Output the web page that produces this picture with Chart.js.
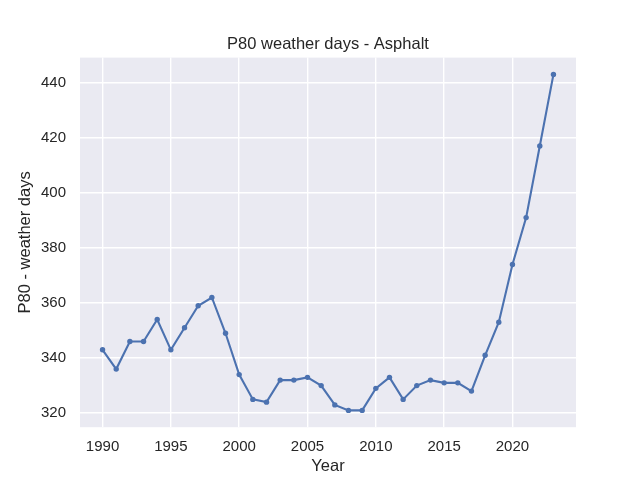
<!DOCTYPE html>
<html>
<head>
<meta charset="utf-8">
<script src="https://cdn.jsdelivr.net/npm/chart.js@4.4.1/dist/chart.umd.min.js"></script>
<style>
  html, body { margin: 0; padding: 0; background: #ffffff; }
  #c { display: block; }
</style>
</head>
<body>
<canvas id="c" width="640" height="480"></canvas>
<script>
const chartTitle = "P80 weather days - Asphalt";
const xLabel = "Year";
const yLabel = "P80 - weather days";
const years = [1990, 1991, 1992, 1993, 1994, 1995, 1996, 1997, 1998, 1999,
               2000, 2001, 2002, 2003, 2004, 2005, 2006, 2007, 2008, 2009,
               2010, 2011, 2012, 2013, 2014, 2015, 2016, 2017, 2018, 2019,
               2020, 2021, 2022, 2023];
const p80Days = [343, 336, 346, 346, 354, 343, 351, 359, 362, 349,
                 334, 325, 324, 332, 332, 333, 330, 323, 321, 321,
                 329, 333, 325, 330, 332, 331, 331, 328, 341, 353,
                 374, 391, 417, 443];
const xTicks = [1990, 1995, 2000, 2005, 2010, 2015, 2020];
const yTicks = [320, 340, 360, 380, 400, 420, 440];

const FONT = "'Liberation Sans', Arial, 'DejaVu Sans', sans-serif";
const TEXT = "#262626";

const bgPlugin = {
  id: 'plotBg',
  beforeDraw(chart) {
    const a = chart.chartArea;
    const ctx = chart.ctx;
    ctx.save();
    ctx.fillStyle = '#ffffff';
    ctx.fillRect(0, 0, chart.width, chart.height);
    ctx.fillStyle = '#EAEAF2';
    ctx.fillRect(a.left, a.top, a.right - a.left, a.bottom - a.top);
    ctx.restore();
  }
};

// Title centred over the plot area (as matplotlib does)
const axesTitlePlugin = {
  id: 'axesTitle',
  afterDraw(chart) {
    const a = chart.chartArea;
    const ctx = chart.ctx;
    ctx.save();
    ctx.fillStyle = TEXT;
    ctx.font = "16.5px " + FONT;
    ctx.textAlign = 'center';
    ctx.textBaseline = 'alphabetic';
    ctx.fillText(chartTitle, (a.left + a.right) / 2, a.top - 8.2);
    ctx.restore();
  }
};

new Chart(document.getElementById('c'), {
  type: 'line',
  data: {
    datasets: [{
      data: years.map((y, i) => ({ x: y, y: p80Days[i] })),
      borderColor: '#4C72B0',
      backgroundColor: '#4C72B0',
      borderWidth: 2.1,
      pointRadius: 2.7,
      pointBorderWidth: 0,
      pointHoverRadius: 2.7,
      tension: 0,
      fill: false
    }]
  },
  options: {
    responsive: false,
    devicePixelRatio: 1,
    animation: false,
    events: [],
    layout: { padding: { left: 16, right: 64, top: 57.6, bottom: 0 } },
    plugins: {
      legend: { display: false },
      tooltip: { enabled: false },
      title: { display: false }
    },
    scales: {
      x: {
        type: 'linear',
        min: 1988.35,
        max: 2024.65,
        afterFit(s) { s.height = 52.8; },
        afterBuildTicks(s) { s.ticks = xTicks.map(v => ({ value: v })); },
        grid: { color: '#ffffff', lineWidth: 1.4, drawTicks: false },
        border: { display: false },
        ticks: {
          color: TEXT,
          font: { family: FONT, size: 15 },
          padding: 10.5,
          maxRotation: 0,
          callback: v => String(v)
        },
        title: {
          display: true,
          text: xLabel,
          color: TEXT,
          font: { family: FONT, size: 16.5 },
          padding: { top: 0, bottom: 4 }
        }
      },
      y: {
        type: 'linear',
        min: 314.9,
        max: 449.1,
        afterFit(s) { s.width = 64; },
        afterBuildTicks(s) { s.ticks = yTicks.map(v => ({ value: v })); },
        grid: { color: '#ffffff', lineWidth: 1.4, drawTicks: false },
        border: { display: false },
        ticks: {
          color: TEXT,
          font: { family: FONT, size: 15 },
          padding: 14,
          callback: v => String(v)
        },
        title: {
          display: true,
          text: yLabel,
          color: TEXT,
          font: { family: FONT, size: 16.5 },
          padding: { top: 0, bottom: 0 }
        }
      }
    }
  },
  plugins: [bgPlugin, axesTitlePlugin]
});
</script>
</body>
</html>
